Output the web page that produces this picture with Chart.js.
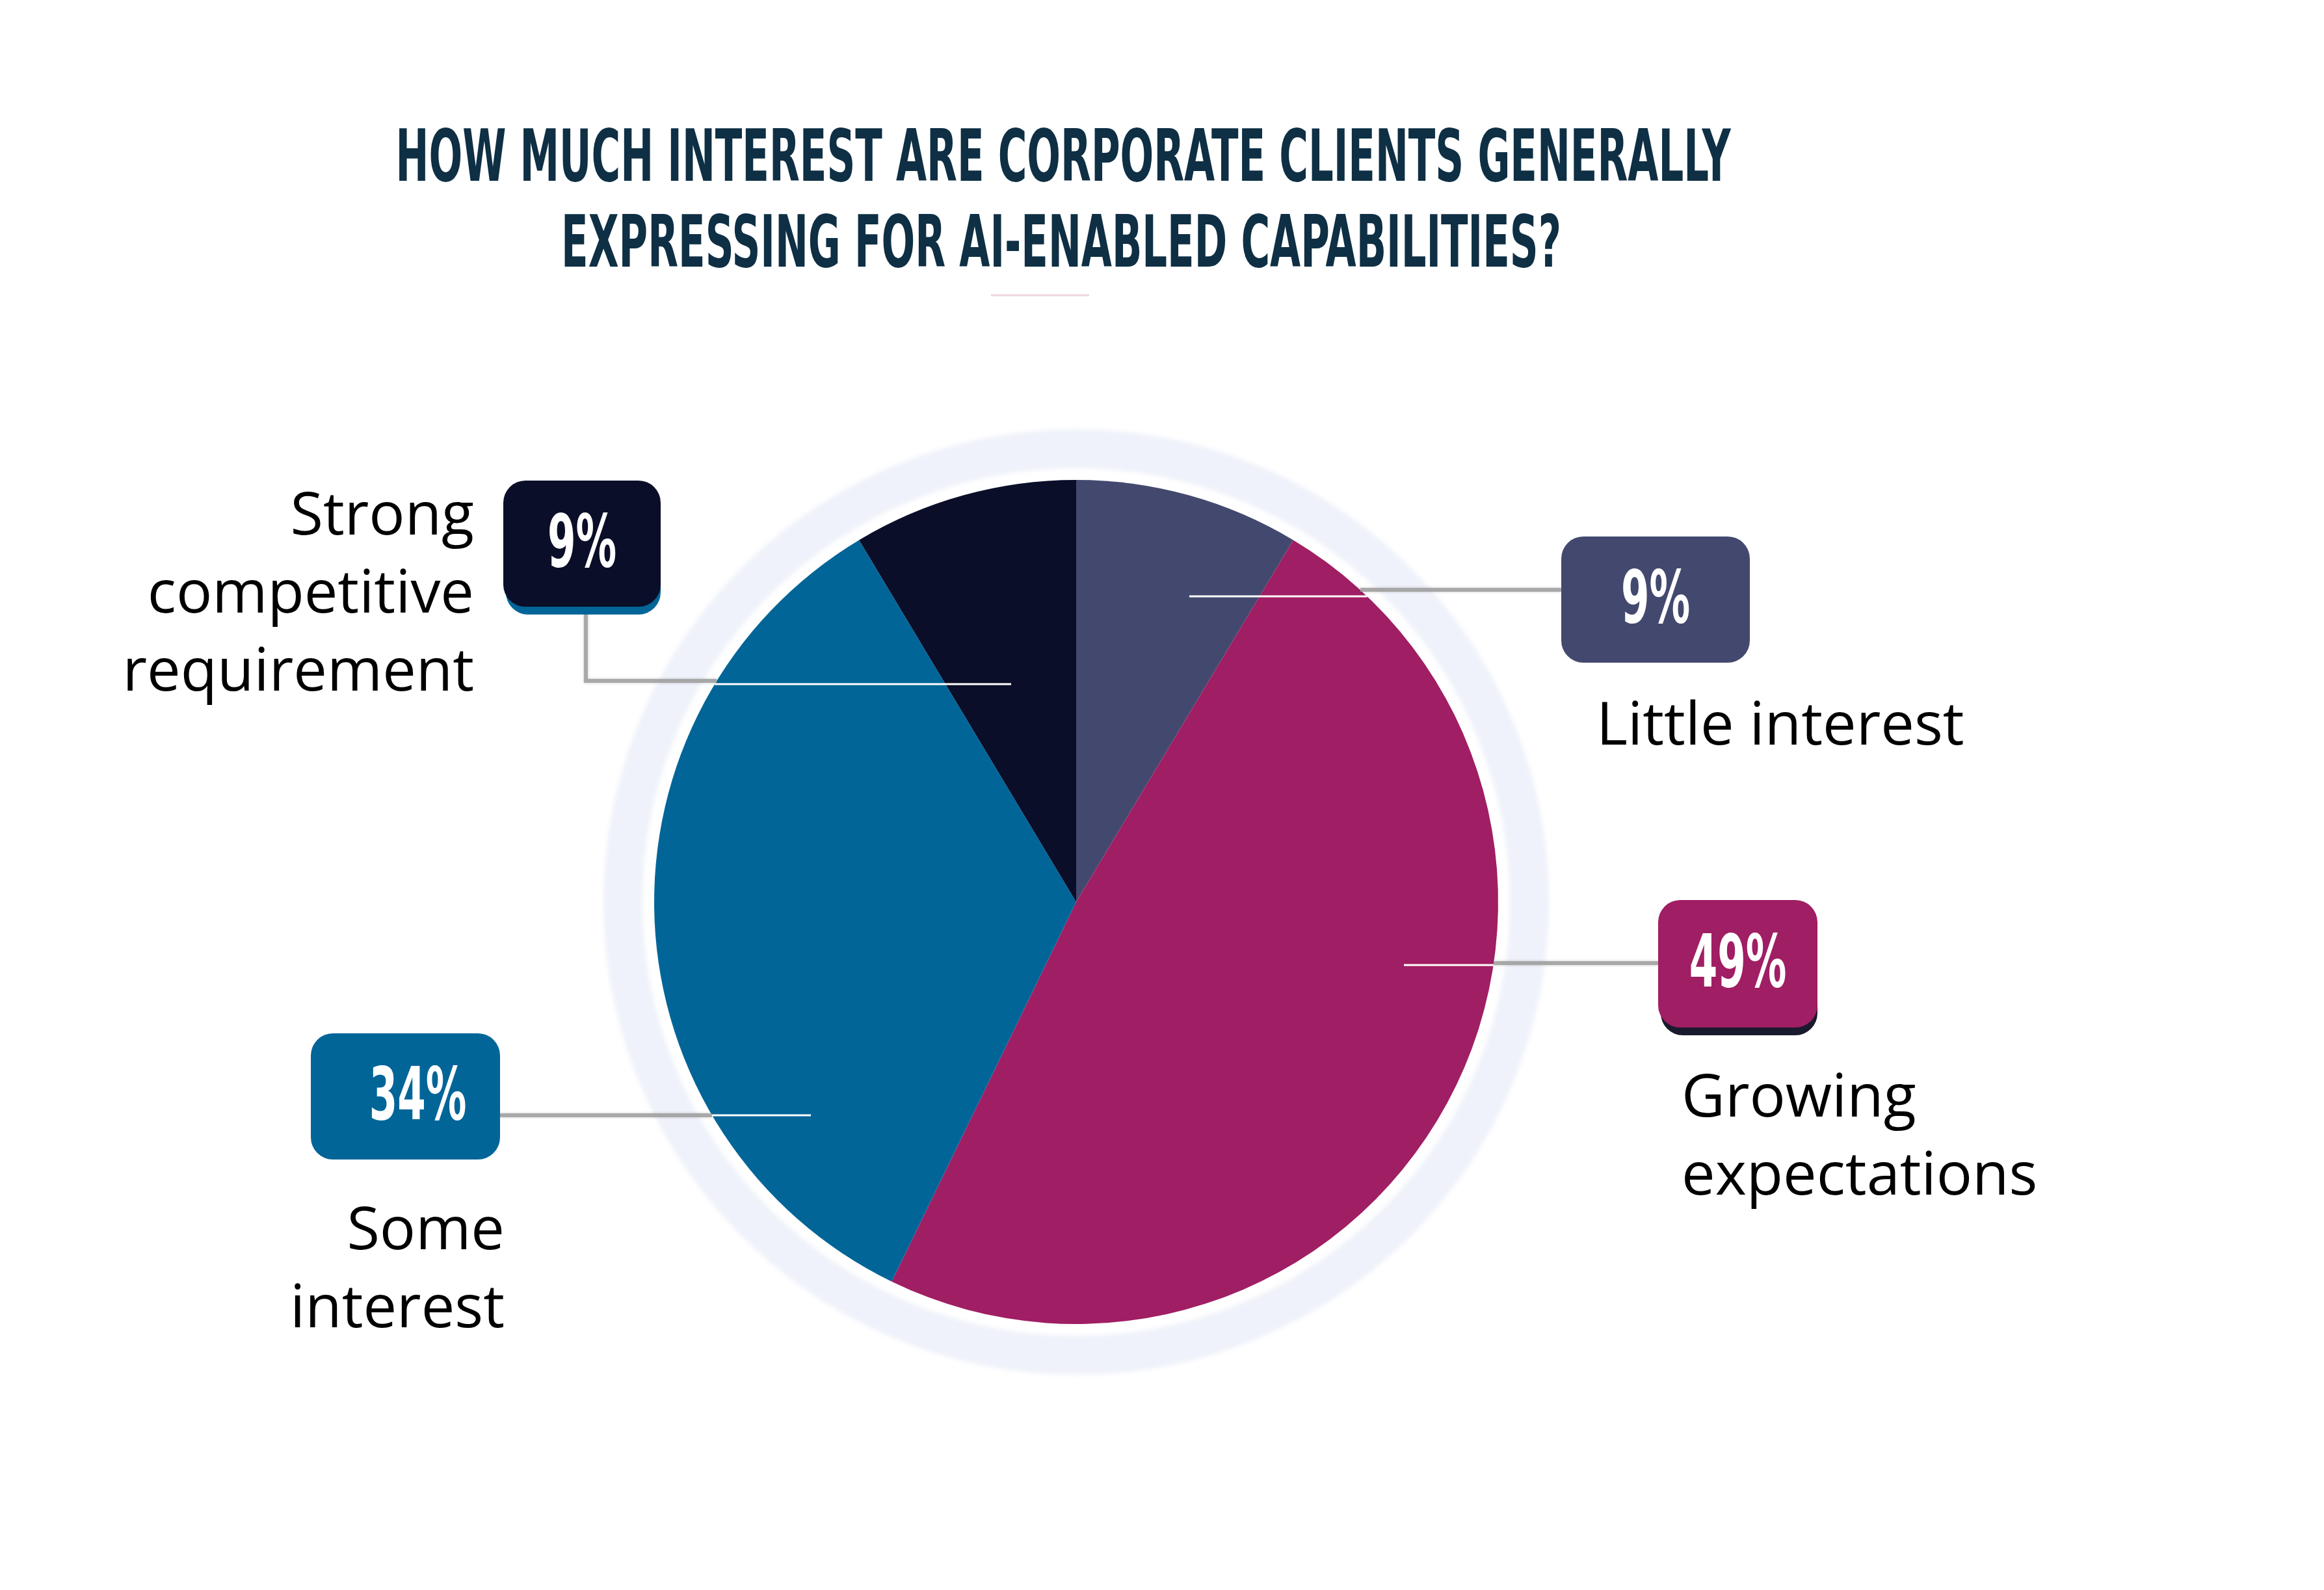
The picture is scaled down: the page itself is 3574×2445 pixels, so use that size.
<!DOCTYPE html>
<html>
<head>
<meta charset="utf-8">
<script src="https://cdn.jsdelivr.net/npm/chart.js@4.4.1/dist/chart.umd.min.js"></script>
<style>
  html, body { margin: 0; padding: 0; background: #fff; }
  canvas { display: block; }
</style>
</head>
<body>
<canvas id="myChart" width="3574" height="2445"></canvas>
<script>

let titleLines = ["HOW MUCH INTEREST ARE CORPORATE CLIENTS GENERALLY", "EXPRESSING FOR AI-ENABLED CAPABILITIES?"];
let labels = ["Little interest", "Growing expectations", "Some interest", "Strong competitive requirement"];
// slice sizes; the boxes show them rounded
let values = [8.6, 48.6, 34.2, 8.6];
let colors = ["#43496e", "#a01e63", "#016598", "#0a0e28"];
// how each name is broken into lines next to its box
let nameLines = [["Little interest"], ["Growing", "expectations"], ["Some", "interest"], ["Strong", "competitive", "requirement"]];

// callout placement, relative to the pie centre
let callouts = [
  { box: [746, -562, 290, 194], whiteY: -470, grayY: -480, inner: 174, side: 1, name: [800, -242], align: "left", shadow: null },
  { box: [895, -3, 245, 196], whiteY: 97, grayY: 94, inner: 504, side: 1, name: [931, 330], align: "left", shadow: "#1a1a2e" },
  { box: [-1177, 202, 291, 194], whiteY: 328, grayY: 328, inner: -408, side: -1, name: [-879, 534], align: "right", shadow: null, pctShift: 19 },
  { box: [-881, -648, 242, 194], whiteY: -335, grayY: -340, inner: -100, side: -1, name: [-926, -565], align: "right", shadow: "#016598", elbow: -754 }
];

let ringPlugin = {
  id: "ring",
  beforeDatasetsDraw(chart) {
    let arc = chart.getDatasetMeta(0).data[0];
    let ctx = chart.ctx;
    ctx.save();
    ctx.filter = "blur(3px)";
    ctx.beginPath();
    ctx.arc(arc.x, arc.y, arc.outerRadius + 48, 0, Math.PI * 2);
    ctx.lineWidth = 60;
    ctx.strokeStyle = "#eff2fa";
    ctx.stroke();
    ctx.restore();
  }
};

let calloutPlugin = {
  id: "callouts",
  afterDatasetsDraw(chart) {
    let ctx = chart.ctx;
    let meta = chart.getDatasetMeta(0);
    let cx = meta.data[0].x, cy = meta.data[0].y, r = meta.data[0].outerRadius;

    // title, drawn in a squeezed bold face
    ctx.save();
    ctx.font = 'bold 110px "DejaVu Sans Condensed"';
    let sx = 2053 / ctx.measureText(titleLines[0]).width;
    ctx.fillStyle = "#0e2f44";
    ctx.textAlign = "center";
    ctx.textBaseline = "alphabetic";
    [[1635, 278], [1632, 410]].forEach((p, i) => {
      ctx.save();
      ctx.translate(p[0], p[1]);
      ctx.scale(sx, 1);
      ctx.fillText(titleLines[i], 0, 0);
      ctx.restore();
    });
    ctx.strokeStyle = "#f0d6df";
    ctx.lineWidth = 3;
    ctx.beginPath();
    ctx.moveTo(1524, 454);
    ctx.lineTo(1675, 454);
    ctx.stroke();
    ctx.restore();

    let total = values.reduce((a, b) => a + b, 0);

    callouts.forEach((c, i) => {
      let bx = cx + c.box[0], by = cy + c.box[1], bw = c.box[2], bh = c.box[3];

      // grey connector outside the pie
      let gy = cy + c.grayY;
      let gEdge = cx + c.side * Math.sqrt(r * r - c.grayY * c.grayY);
      ctx.save();
      ctx.strokeStyle = "rgba(160,160,160,0.85)";
      ctx.lineWidth = 6;
      ctx.shadowColor = "rgba(0,0,0,0.25)";
      ctx.shadowBlur = 4;
      ctx.beginPath();
      ctx.moveTo(gEdge, gy);
      if (c.elbow !== undefined) {
        ctx.lineTo(cx + c.elbow, gy);
        ctx.lineTo(cx + c.elbow, by + bh);
      } else {
        ctx.lineTo(c.side > 0 ? bx : bx + bw, gy);
      }
      ctx.stroke();
      ctx.restore();

      // white line inside the slice
      let wy = cy + c.whiteY;
      let wEdge = cx + c.side * Math.sqrt(r * r - c.whiteY * c.whiteY);
      ctx.save();
      ctx.strokeStyle = "#ffffff";
      ctx.lineWidth = 3;
      ctx.beginPath();
      ctx.moveTo(cx + c.inner, wy);
      ctx.lineTo(wEdge, wy);
      ctx.stroke();
      ctx.restore();

      // box
      ctx.save();
      if (c.shadow) {
        ctx.fillStyle = c.shadow;
        ctx.beginPath();
        ctx.roundRect(bx + 4, by + 12, bw - 4, bh, 34);
        ctx.fill();
      }
      ctx.fillStyle = colors[i];
      ctx.beginPath();
      ctx.roundRect(bx, by, bw, bh, 34);
      ctx.fill();

      // percentage
      let pct = Math.round(values[i] / total * 100) + "%";
      ctx.font = 'bold 113px "DejaVu Sans Condensed"';
      ctx.fillStyle = "#ffffff";
      ctx.textAlign = "center";
      ctx.textBaseline = "middle";
      ctx.translate(bx + bw / 2 + (c.pctShift || 0), by + bh / 2 + 6);
      ctx.scale(sx, 1);
      ctx.fillText(pct, 0, 0);
      ctx.restore();

      // category name
      ctx.save();
      ctx.font = '92px "Open Sans"';
      ctx.fillStyle = "#000000";
      ctx.textAlign = c.align;
      ctx.textBaseline = "alphabetic";
      nameLines[i].forEach((t, k) => {
        ctx.fillText(t, cx + c.name[0], cy + c.name[1] + k * 120);
      });
      ctx.restore();
    });
  }
};

let myChart = document.getElementById("myChart").getContext("2d");

let pieChart = new Chart(myChart, {
  type: "pie",
  data: {
    labels: labels,
    datasets: [{
      data: values,
      backgroundColor: colors,
      borderWidth: 0
    }]
  },
  options: {
    responsive: false,
    animation: false,
    layout: { padding: { left: 1006, right: 1270, top: 738, bottom: 409 } },
    plugins: {
      legend: { display: false },
      tooltip: { enabled: false }
    }
  },
  plugins: [ringPlugin, calloutPlugin]
});

</script>
</body>
</html>
